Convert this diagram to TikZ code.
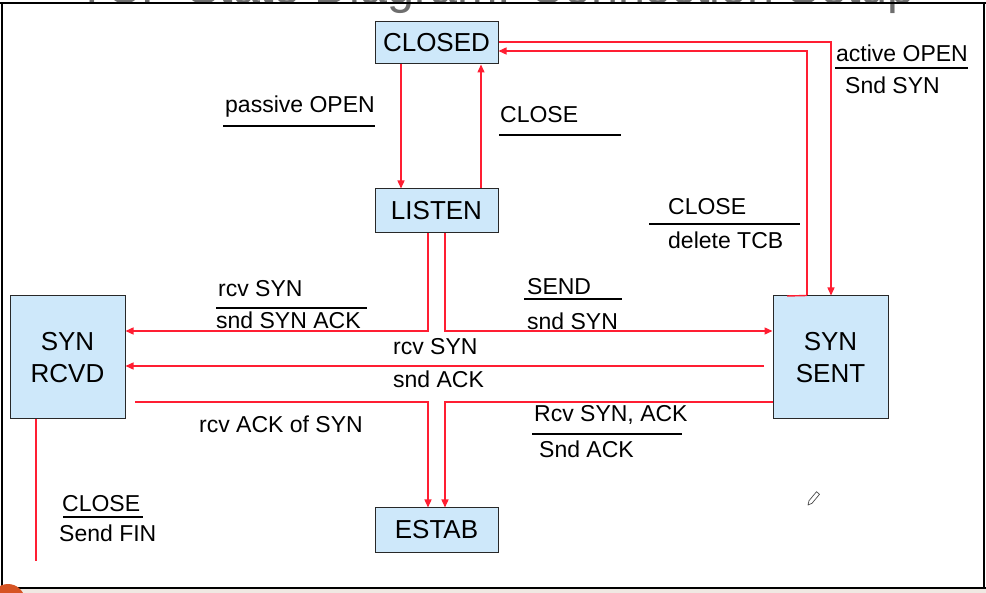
\documentclass[tikz,border=0pt]{standalone}
\usepackage{fontspec}
\setmainfont{Liberation Sans}
\usetikzlibrary{arrows.meta}
\definecolor{boxfill}{RGB}{206,232,250}
\definecolor{boxline}{RGB}{40,40,40}
\definecolor{conred}{RGB}{255,30,50}
\definecolor{titlegray}{RGB}{110,110,110}
\definecolor{stripbeige}{RGB}{240,233,227}
\definecolor{orangedot}{RGB}{214,84,36}
\tikzset{
  box/.style={draw=boxline, fill=boxfill, line width=1pt, inner sep=0pt,
    font=\fontsize{26}{32}\selectfont, align=center},
  conn/.style={draw=conred, line width=1.4pt},
  arr/.style={conn, -{Triangle[length=8pt,width=7pt]}},
  lbl/.style={anchor=base west, inner sep=0pt, font=\fontsize{23}{28}\selectfont},
  uline/.style={draw=black, line width=1.3pt},
  frameline/.style={draw=black, line width=1.2pt}
}
\begin{document}
\begin{tikzpicture}[x=1pt,y=-1pt]
\useasboundingbox (0,0) rectangle (986,593);
\clip (0,0) rectangle (986,593);
\fill[white] (0,0) rectangle (986,593);
% clipped title
\node[anchor=base west, inner sep=0pt, text=titlegray, font=\fontsize{48.5}{56}\selectfont] (title) at (77,4) {TCP State Diagram: Connection Setup};
% frame
\fill[stripbeige] (0,589) rectangle (986,593);
\draw[frameline] (0,3) -- (986,3);
\draw[frameline] (2,3) -- (2,588);
\draw[frameline] (984,3) -- (984,588);
\draw[frameline] (0,588) -- (986,588);
\fill[orangedot] (8,601) circle (17);

% states
\node[box, minimum width=123pt, minimum height=42pt] (closed) at (436.5,43) {CLOSED};
\node[box, minimum width=123pt, minimum height=44pt] (listen) at (436.5,211) {LISTEN};
\node[box, minimum width=115pt, minimum height=123pt] (synrcvd) at (67.5,357.5) {SYN\\RCVD};
\node[box, minimum width=115pt, minimum height=123pt] (synsent) at (830.5,357.5) {SYN\\SENT};
\node[box, minimum width=123pt, minimum height=44pt] (estab) at (436.5,530) {ESTAB};

% bend coordinates
\coordinate (c1) at (807,51);
\coordinate (stub) at (787,296);
\coordinate (c2) at (831,42);
\coordinate (c3) at (401,0);
\coordinate (c4) at (481,0);
\coordinate (c5) at (428,331);
\coordinate (c6) at (445,331);
\coordinate (c7) at (764,366);
\coordinate (c8s) at (135,402);
\coordinate (c8) at (428,402);
\coordinate (c9) at (445,402);
\coordinate (c10) at (36,561);

% connectors
\draw[arr] (closed.south -| c3) -- (listen.north -| c3);
\draw[arr] (listen.north -| c4) -- (closed.south -| c4);
\draw[conn] (stub) -- (synsent.north -| c1);
\draw[arr] (synsent.north -| c1) -- (c1) -- (closed.east |- c1);
\draw[arr] (closed.east |- c2) -- (c2) -- (synsent.north -| c2);
\draw[arr] (listen.south -| c5) -- (c5) -- (synrcvd.east |- c5);
\draw[arr] (listen.south -| c6) -- (c6) -- (synsent.west |- c6);
\draw[arr] (c7) -- (synrcvd.east |- c7);
\draw[arr] (c8s) -- (c8) -- (estab.north -| c8);
\draw[arr] (synsent.west |- c9) -- (c9) -- (estab.north -| c9);
\draw[conn] (synrcvd.south -| c10) -- (c10);

% labels
\node[lbl] (l1) at (225,113) {passive OPEN};
\draw[uline] (223,126) -- (375,126);
\node[lbl] (l2) at (500,123) {CLOSE};
\draw[uline] (499,135) -- (621,135);
\node[lbl] (l3) at (836,62) {active OPEN};
\draw[uline] (835,68) -- (968,68);
\node[lbl] (l3b) at (845,94) {Snd SYN};
\node[lbl] (l4) at (668,215) {CLOSE};
\draw[uline] (649,224) -- (800,224);
\node[lbl] (l4b) at (668,249) {delete TCB};
\node[lbl] (l5) at (218,297) {rcv SYN};
\draw[uline] (216,308) -- (367,308);
\node[lbl] (l5b) at (216,329) {snd SYN ACK};
\node[lbl] (l6) at (527,295) {SEND};
\draw[uline] (524,299) -- (622,299);
\node[lbl] (l6b) at (527,330) {snd SYN};
\node[lbl] (l7) at (393,355) {rcv SYN};
\node[lbl] (l7b) at (393,388) {snd ACK};
\node[lbl] (l8) at (199,433) {rcv ACK of SYN};
\node[lbl] (l9) at (534,422) {Rcv SYN, ACK};
\draw[uline] (532,434) -- (682,434);
\node[lbl] (l9b) at (539,458) {Snd ACK};
\node[lbl] (l10) at (62,512) {CLOSE};
\draw[uline] (63,517) -- (143,517);
\node[lbl] (l10b) at (59,541) {Send FIN};

% pencil cursor
\draw[black!70, line width=0.7pt, line join=round] (808,505) -- (812,503.3) -- (819.5,494.3) -- (816.5,491.7) -- (809,500.7) -- cycle;
\end{tikzpicture}
\end{document}
